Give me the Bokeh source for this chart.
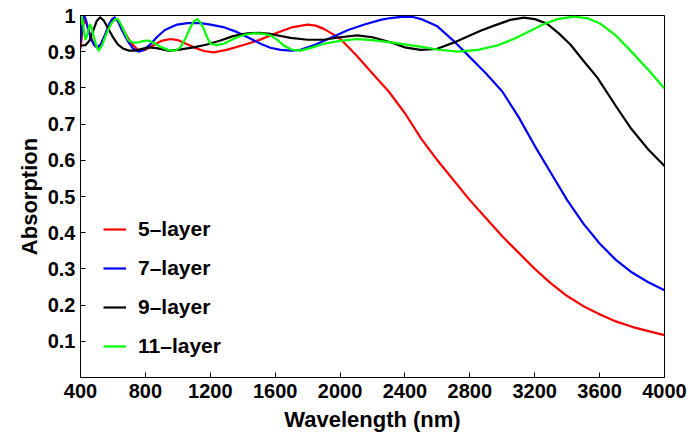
from bokeh.plotting import figure
from bokeh.models import FixedTicker, Legend, LegendItem, Range1d
from bokeh.embed import file_html
from bokeh.resources import INLINE

# ---- data ----
x5 = [400, 412, 425, 440, 460, 480, 500, 520, 545, 575, 600, 618, 640, 670, 710, 758, 800,
      850, 900, 955, 1000, 1050, 1100, 1160, 1222, 1300, 1400, 1500, 1600, 1700, 1800, 1850,
      1900, 1950, 2003, 2100, 2200, 2300, 2400, 2500, 2600, 2700, 2800, 2900, 3000, 3100,
      3200, 3300, 3400, 3500, 3600, 3700, 3800, 3900, 4000]
y5 = [0.908, 0.96, 0.99, 0.975, 0.945, 0.922, 0.912, 0.915, 0.94, 0.97, 0.988, 0.99, 0.98,
      0.955, 0.925, 0.903, 0.905, 0.918, 0.93, 0.935, 0.932, 0.922, 0.912, 0.902, 0.898,
      0.905, 0.918, 0.932, 0.95, 0.967, 0.975, 0.972, 0.963, 0.95, 0.935, 0.89, 0.84, 0.79,
      0.73, 0.66, 0.60, 0.545, 0.49, 0.44, 0.39, 0.345, 0.30, 0.26, 0.225, 0.197, 0.175,
      0.155, 0.14, 0.128, 0.117]

x7 = [400, 408, 415, 422, 432, 445, 465, 485, 503, 525, 550, 575, 595, 610, 630, 655, 690,
      725, 760, 790, 830, 870, 920, 996, 1060, 1140, 1201, 1280, 1366, 1440, 1510, 1570,
      1633, 1700, 1756, 1850, 1950, 2050, 2150, 2250, 2311, 2391, 2450, 2500, 2600, 2700,
      2800, 2900, 3000, 3100, 3200, 3300, 3400, 3500, 3600, 3700, 3800, 3900, 4000]
y7 = [0.926, 0.96, 0.99, 1.0, 0.99, 0.965, 0.935, 0.918, 0.912, 0.92, 0.945, 0.975, 0.99,
      0.995, 0.985, 0.96, 0.93, 0.908, 0.90, 0.905, 0.92, 0.94, 0.96, 0.975, 0.979, 0.979,
      0.975, 0.968, 0.954, 0.938, 0.922, 0.911, 0.905, 0.903, 0.905, 0.92, 0.94, 0.96,
      0.975, 0.988, 0.993, 0.997, 0.996, 0.99, 0.97, 0.93, 0.885, 0.84, 0.79, 0.72, 0.64,
      0.565, 0.49, 0.425, 0.37, 0.325, 0.29, 0.263, 0.241]

x9 = [400, 430, 455, 480, 500, 521, 545, 570, 600, 630, 665, 700, 737, 780, 819, 870, 942,
      1000, 1097, 1180, 1263, 1340, 1428, 1500, 1571, 1694, 1800, 1900, 2000, 2106, 2200,
      2311, 2400, 2496, 2599, 2700, 2800, 2866, 2950, 3050, 3133, 3200, 3277, 3350, 3420,
      3500, 3585, 3700, 3790, 3900, 4000]
y9 = [0.917, 0.918, 0.93, 0.96, 0.985, 0.995, 0.985, 0.965, 0.94, 0.92, 0.908, 0.903,
      0.903, 0.908, 0.912, 0.91, 0.903, 0.905, 0.912, 0.92, 0.931, 0.943, 0.951, 0.952,
      0.949, 0.938, 0.933, 0.933, 0.94, 0.945, 0.94, 0.926, 0.912, 0.905, 0.908, 0.925,
      0.945, 0.958, 0.972, 0.988, 0.994, 0.99, 0.977, 0.95, 0.92, 0.875, 0.829, 0.75,
      0.69, 0.63, 0.584]

x11 = [400, 405, 410, 417, 423, 430, 438, 448, 458, 466, 480, 495, 511, 530, 560, 590, 614,
       630, 650, 675, 696, 730, 758, 790, 819, 860, 901, 940, 984, 1016, 1045, 1078, 1100,
       1119, 1140, 1160, 1180, 1201, 1240, 1283, 1320, 1366, 1420, 1468, 1520, 1571, 1615,
       1653, 1700, 1756, 1830, 1900, 2000, 2106, 2200, 2311, 2400, 2496, 2600, 2722, 2850,
       2968, 3070, 3174, 3250, 3340, 3441, 3530, 3605, 3700, 3790, 3900, 4000]
y11 = [0.975, 0.99, 0.995, 0.975, 0.95, 0.935, 0.94, 0.96, 0.975, 0.97, 0.945, 0.92,
       0.903, 0.915, 0.95, 0.978, 0.99, 0.99, 0.975, 0.95, 0.931, 0.925, 0.926, 0.93, 0.931,
       0.922, 0.912, 0.905, 0.903, 0.912, 0.935, 0.968, 0.985, 0.99, 0.98, 0.963, 0.94,
       0.922, 0.918, 0.922, 0.93, 0.94, 0.948, 0.951, 0.95, 0.945, 0.932, 0.917, 0.906,
       0.903, 0.912, 0.922, 0.93, 0.935, 0.932, 0.926, 0.92, 0.914, 0.906, 0.90, 0.905,
       0.917, 0.935, 0.958, 0.975, 0.99, 0.997, 0.992, 0.977, 0.945, 0.903, 0.85, 0.798]

series_names = ["5\u2013layer", "7\u2013layer", "9\u2013layer", "11\u2013layer"]
series_colors = ["#ff0000", "#0000ff", "#000000", "#00ff00"]

x_ticks = [400, 800, 1200, 1600, 2000, 2400, 2800, 3200, 3600, 4000]
y_ticks = [0.1, 0.2, 0.3, 0.4, 0.5, 0.6, 0.7, 0.8, 0.9, 1.0]
y_tick_labels = ["0.1", "0.2", "0.3", "0.4", "0.5", "0.6", "0.7", "0.8", "0.9", "1"]

FONT = "Liberation Sans"

p = figure(width=690, height=440, output_backend="svg", toolbar_location=None,
           x_range=Range1d(400, 4000), y_range=Range1d(0, 1),
           min_border_left=80, min_border_right=26, min_border_top=15, min_border_bottom=63)

p.xgrid.visible = False
p.ygrid.visible = False
p.outline_line_color = "black"
p.outline_line_width = 1
p.background_fill_color = "white"
p.border_fill_color = "white"

renderers = []
for xs, ys, c in zip([x5, x7, x9, x11], [y5, y7, y9, y11], series_colors):
    r = p.line(xs, ys, line_color=c, line_width=2.2, line_join="round")
    renderers.append(r)

for ax in (p.xaxis[0], p.yaxis[0]):
    ax.major_tick_in = 5
    ax.major_tick_out = 0
    ax.minor_tick_in = 0
    ax.minor_tick_out = 0
    ax.axis_line_color = "black"
    ax.major_tick_line_color = "black"
    ax.major_label_text_font = FONT
    ax.major_label_text_font_style = "bold"
    ax.major_label_text_font_size = "20px"
    ax.major_label_text_color = "black"
    ax.axis_label_text_font = FONT
    ax.axis_label_text_font_style = "bold"
    ax.axis_label_text_font_size = "22px"
    ax.axis_label_text_color = "black"

p.xaxis.ticker = FixedTicker(ticks=x_ticks)
p.yaxis.ticker = FixedTicker(ticks=y_ticks)
p.yaxis.major_label_overrides = {t: l for t, l in zip(y_ticks, y_tick_labels)}
p.xaxis.axis_label = "Wavelength (nm)"
p.yaxis.axis_label = "Absorption"
p.xaxis.major_label_standoff = 6
p.xaxis.axis_label_standoff = 6
p.yaxis.major_label_standoff = 5
p.yaxis.axis_label_standoff = 3

items = [LegendItem(label=n, renderers=[r]) for n, r in zip(series_names, renderers)]
legend = Legend(items=items, location=(23, 19), padding=0, margin=0,
                glyph_width=23, glyph_height=24, label_height=24, label_standoff=12,
                spacing=15, border_line_color=None, background_fill_alpha=0,
                label_text_font=FONT, label_text_font_style="bold",
                label_text_font_size="21px", label_text_color="black")
p.add_layout(legend)

open("out.html", "w").write(file_html(p, INLINE))
